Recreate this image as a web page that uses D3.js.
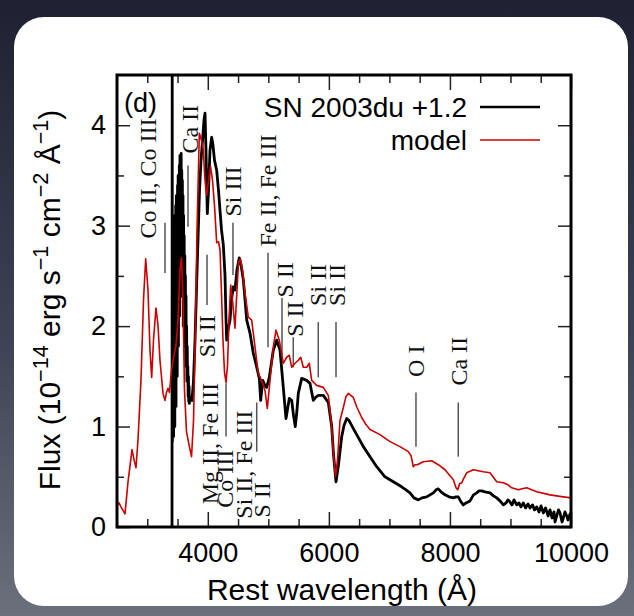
<!DOCTYPE html>
<html><head><meta charset="utf-8">
<script src="https://cdn.jsdelivr.net/npm/d3@7"></script>
<style>html,body{margin:0;padding:0;background:#2a2d3c;} svg{display:block}</style>
</head><body><svg id="c" width="634" height="616"></svg>
<script>
// ---------------- data ----------------
const obsWave = [3409,3412,3415,3420,3425,3430,3435,3440,3445,3450,3455,3460,3465,3470,3475,3480,3485,3490,3495,3500,3505,3510,3515,3520,3525,3530,3535,3540,3545,3550,3555,3560,3565,3570,3575,3580,3585,3590,3595,3600,3605,3610,3615,3620,3625,3630,3635,3640,3645,3650,3655,3660,3665,3670,3675,3680,3685,3690,3695,3700,
3739,3764,3789,3813,3838,3863,3888,3913,3937,3954,3970,3992,4012,4036,4064,4086,4111,4147,4177,4202,4226,4256,4284,4301,4312,4333,4367,4391,4421,4449,4482,4520,4549,4587,4615,4643,4697,4752,4808,4851,4874,4907,4945,4973,5016,5082,5138,5193,5247,5292,5346,5386,5416,5445,5473,5495,5551,5634,5688,5743,5780,5826,5908,5991,6047,6077,6118,6159,6212,6250,6295,6333,6378,6432,6487,6570,6680,6790,6927,7064,7203,7274,7340,7406,7477,7539,7616,7671,7726,7771,7808,7853,7919,7985,8056,8101,8138,8183,8221,8266,8332,8389,8442,8481,8525,8579,8662,8720,8773,8827,8882,8927,8960,8993,9025,9059,9103,9141,9174,9212,9249,9290,9323,9364,9398,9434,9472,9505,9543,9580,9621,9653,9687,9719,9736,9769,9794,9818,9852,9873,9901,9929,9950,9984,10000];
const obsFlux = [0,4.7,0.85,2.9,1.1,3.05,0.9,2.7,1.2,3.1,1.0,2.9,1.4,3.2,1.2,3.3,1.6,3.1,1.5,3.4,1.9,3.5,1.8,3.3,2.2,3.6,2.1,3.7,2.5,3.5,2.4,3.72,2.6,3.55,2.3,3.45,2.4,3.3,2.0,3.1,2.1,2.9,1.8,2.7,1.9,2.5,1.6,2.3,1.7,2.0,1.45,1.8,1.5,1.6,1.3,1.5,1.25,1.4,1.23,1.3,
1.26,1.46,1.86,2.36,2.86,3.35,3.65,3.85,4.05,4.12,3.75,3.12,3.35,3.75,3.88,3.80,3.65,3.55,3.35,3.15,2.96,2.81,2.51,2.06,1.86,1.96,2.06,2.26,2.39,2.36,2.56,2.68,2.61,2.46,2.26,2.06,1.93,1.73,1.59,1.48,1.26,1.46,1.41,1.39,1.49,1.76,1.86,1.76,1.39,1.08,1.28,1.26,1.11,1.00,1.16,1.33,1.48,1.46,1.43,1.26,1.29,1.31,1.31,1.24,1.00,0.72,0.45,0.62,0.90,1.01,1.08,1.06,1.01,0.95,0.89,0.80,0.70,0.60,0.50,0.45,0.40,0.37,0.34,0.29,0.27,0.29,0.30,0.32,0.34,0.37,0.38,0.35,0.32,0.30,0.29,0.30,0.30,0.25,0.22,0.24,0.26,0.32,0.34,0.36,0.36,0.35,0.34,0.31,0.29,0.26,0.22,0.24,0.27,0.25,0.22,0.27,0.22,0.24,0.20,0.24,0.19,0.23,0.19,0.22,0.17,0.20,0.15,0.21,0.14,0.19,0.11,0.17,0.09,0.15,0.05,0.12,0.17,0.14,0.05,0.09,0.15,0.11,0.07,0.13,0.12];

const modelWave = [2500,2533,2566,2632,2682,2748,2789,2814,2847,2896,2938,2974,3012,3045,3073,3103,3144,3177,3210,3260,3293,3318,3343,3367,3400,3442,3475,3508,3541,3566,3590,3615,3648,3689,3731,3764,3789,3822,3860,3896,3926,3954,3982,4012,4045,4078,4111,4147,4177,4202,4230,4251,4276,4301,4326,4350,4378,4408,4449,4482,4507,4540,4573,4615,4669,4725,4780,4834,4890,4945,4983,5028,5082,5127,5181,5247,5303,5346,5386,5441,5495,5535,5578,5634,5677,5716,5799,5908,5991,6047,6077,6110,6143,6184,6239,6283,6321,6404,6465,6542,6613,6680,6845,7010,7175,7312,7357,7395,7423,7461,7560,7699,7808,7919,8001,8056,8101,8129,8159,8195,8233,8277,8386,8551,8662,8773,8882,8960,9021,9130,9191,9268,9433,9653,9873,10000];
const modelFlux = [0.22,0.24,0.20,0.13,0.45,0.77,0.65,0.59,0.87,1.46,2.26,2.67,2.36,1.76,1.49,1.86,2.18,2.01,1.66,1.33,1.26,1.34,1.38,1.34,1.56,1.71,1.81,2.06,2.56,2.68,2.26,1.36,0.95,0.82,0.70,1.06,1.76,2.96,3.92,3.85,3.75,3.45,3.30,3.45,3.59,3.45,3.20,2.83,2.84,2.76,2.26,1.86,1.54,1.44,1.61,2.06,2.41,2.26,1.98,2.36,2.63,2.67,2.56,2.33,2.09,2.06,1.79,1.53,1.46,1.36,1.18,1.46,1.79,1.96,1.86,1.63,1.69,1.71,1.59,1.63,1.66,1.69,1.59,1.59,1.63,1.46,1.41,1.39,1.31,1.00,0.72,0.50,0.67,1.06,1.19,1.30,1.33,1.29,1.19,1.09,1.02,0.97,0.92,0.85,0.80,0.75,0.71,0.60,0.62,0.62,0.65,0.66,0.62,0.57,0.51,0.47,0.39,0.37,0.43,0.44,0.49,0.54,0.57,0.55,0.54,0.45,0.44,0.42,0.39,0.37,0.38,0.39,0.35,0.32,0.30,0.29];

const xTickValues = [4000, 6000, 8000, 10000];
const xMinorValues = [3000,3500,4500,5000,5500,6500,7000,7500,8500,9000,9500];
const yTickValues = [0, 1, 2, 3, 4];
const yMinorValues = [0.5, 1.5, 2.5, 3.5];
const seriesNames = ["SN 2003du +1.2", "model"];

// line identifications
const ionLabels  = ["Co II, Co III","Ca II","Si III","Fe II, Fe III","S II","S II","Si II","Si II","O I","Ca II","Si II","Mg II, Fe III","Co III","Si II, Fe III","S II"];
const markWave   = [3293,3673,4416,4995,5226,5412,5825,6118,7439,8138,3987,null,4301,4808,null];
const markTop    = [3.03,3.60,3.03,2.73,2.28,1.89,2.04,2.04,1.34,1.24,2.71,null,1.43,1.24,null];
const markBottom = [2.53,2.99,2.51,1.79,1.63,1.59,1.49,1.49,0.80,0.70,2.21,null,0.90,0.75,null];
const labelWave  = [3012,3706,4416,4995,5275,5441,5821,6134,7439,8138,3987,4036,4284,4598,4895];
const labelFlux  = [3.47,3.96,3.34,3.35,2.46,2.07,2.41,2.41,1.65,1.65,1.90,0.83,0.48,0.62,0.27];

// ---------------- drawing ----------------
const svg = d3.select("#c");
const W = 634, H = 616;
const sans = "'Liberation Sans', Arial, Helvetica, sans-serif";
const serif = "'Liberation Serif', 'Times New Roman', serif";

const defs = svg.append("defs");
const bg = defs.append("linearGradient").attr("id","bg").attr("x1",0).attr("y1",0).attr("x2",0).attr("y2",1);
bg.append("stop").attr("offset","0%").attr("stop-color","#1f2132");
bg.append("stop").attr("offset","55%").attr("stop-color","#3e4254");
bg.append("stop").attr("offset","100%").attr("stop-color","#6c707c");
svg.append("rect").attr("width",W).attr("height",H).attr("fill","url(#bg)");
svg.append("rect").attr("x",14).attr("y",17).attr("width",614).attr("height",589).attr("rx",30).attr("fill","#ffffff");

const L = 117, R = 571, T = 75, B = 527;
const x = d3.scaleLinear().domain([2500, 10000]).range([L, R]);
const y = d3.scaleLinear().domain([0, 4.5]).range([B, T]);

defs.append("clipPath").attr("id","clip").append("rect").attr("x",L).attr("y",T).attr("width",R-L).attr("height",B-T);

function styleAxis(g){
  g.select(".domain").remove();
  g.selectAll(".tick line").attr("stroke","#222").attr("stroke-width",1.5);
  g.selectAll(".tick text").attr("font-family",sans).attr("font-size",27).attr("fill","#000");
}
svg.append("g").attr("transform",`translate(0,${B})`)
  .call(d3.axisBottom(x).tickValues(xTickValues).tickSize(-15).tickPadding(16).tickFormat(d3.format("d"))).call(styleAxis);
svg.append("g").attr("transform",`translate(0,${B})`)
  .call(d3.axisBottom(x).tickValues(xMinorValues).tickSize(-8).tickFormat("")).call(styleAxis);
svg.append("g").attr("transform",`translate(0,${T})`)
  .call(d3.axisTop(x).tickValues(xTickValues).tickSize(-15).tickFormat("")).call(styleAxis);
svg.append("g").attr("transform",`translate(0,${T})`)
  .call(d3.axisTop(x).tickValues(xMinorValues).tickSize(-8).tickFormat("")).call(styleAxis);
svg.append("g").attr("transform",`translate(${L},0)`)
  .call(d3.axisLeft(y).tickValues(yTickValues).tickSize(-13).tickPadding(11).tickFormat(d3.format("d"))).call(styleAxis);
svg.append("g").attr("transform",`translate(${L},0)`)
  .call(d3.axisLeft(y).tickValues(yMinorValues).tickSize(-7).tickFormat("")).call(styleAxis);
svg.append("g").attr("transform",`translate(${R},0)`)
  .call(d3.axisRight(y).tickValues(yTickValues).tickSize(-13).tickFormat("")).call(styleAxis);
svg.append("g").attr("transform",`translate(${R},0)`)
  .call(d3.axisRight(y).tickValues(yMinorValues).tickSize(-7).tickFormat("")).call(styleAxis);

// ion marker lines and labels
const ions = ionLabels.map((t,i)=>({t, mw:markWave[i], mt:markTop[i], mb:markBottom[i], lw:labelWave[i], lf:labelFlux[i]}));
const ionG = svg.append("g");
ionG.selectAll("line").data(ions.filter(d=>d.mw!==null)).join("line")
  .attr("x1",d=>x(d.mw)).attr("x2",d=>x(d.mw)).attr("y1",d=>y(d.mt)).attr("y2",d=>y(d.mb))
  .attr("stroke","#555").attr("stroke-width",1.5);
ionG.selectAll("text").data(ions).join("text")
  .attr("transform",d=>`translate(${x(d.lw)},${y(d.lf)}) rotate(-90)`)
  .attr("text-anchor","middle").attr("dy","0.35em")
  .attr("font-family",serif).attr("font-size",24).attr("fill","#111")
  .text(d=>d.t);

// spectra
const line = d3.line().x(d=>x(d[0])).y(d=>y(d[1]));
const plot = svg.append("g").attr("clip-path","url(#clip)");
plot.append("path").datum(obsWave.map((w,i)=>[w,obsFlux[i]]))
  .attr("d",line).attr("fill","none").attr("stroke","#000").attr("stroke-width",2.8).attr("stroke-linejoin","round");
plot.append("path").datum(modelWave.map((w,i)=>[w,modelFlux[i]]))
  .attr("d",line).attr("fill","none").attr("stroke","#cc0000").attr("stroke-width",1.6).attr("stroke-linejoin","round");

// frame
svg.append("rect").attr("x",L).attr("y",T).attr("width",R-L).attr("height",B-T)
  .attr("fill","none").attr("stroke","#000").attr("stroke-width",3);

// panel tag
svg.append("text").attr("x",124).attr("y",112).attr("font-family",sans).attr("font-size",27).text("(d)");

// legend
const legColors = ["#000","#cc0000"], legWidths = [2.6,1.6];
const leg = svg.append("g");
seriesNames.forEach((n,i)=>{
  const yy = 107 + i*33;
  leg.append("text").attr("x",467).attr("y",yy).attr("dy","0.35em").attr("text-anchor","end")
    .attr("font-family",sans).attr("font-size",28).text(n);
  leg.append("line").attr("x1",480).attr("x2",540).attr("y1",yy).attr("y2",yy)
    .attr("stroke",legColors[i]).attr("stroke-width",legWidths[i]);
});

// axis titles
svg.append("text").attr("x",(L+R)/2-2).attr("y",600).attr("text-anchor","middle")
  .attr("font-family",sans).attr("font-size",30).text("Rest wavelength (Å)");
const yt = svg.append("text").attr("transform","translate(60,300) rotate(-90)").attr("text-anchor","middle")
  .attr("font-family",sans).attr("font-size",30);
const parts = [["Flux (10",0],["−14",1],[" erg s",0],["−1",1],[" cm",0],["−2",1],[" Å",0],["−1",1],[")",0]];
let prevSup = 0;
parts.forEach(([t,s])=>{
  const ts = yt.append("tspan").text(t);
  if (s) { ts.attr("font-size","0.72em").attr("dy", prevSup? 0 : "-0.55em"); }
  else { ts.attr("dy", prevSup ? "0.4em" : 0); }
  prevSup = s;
});
</script>
</body></html>
